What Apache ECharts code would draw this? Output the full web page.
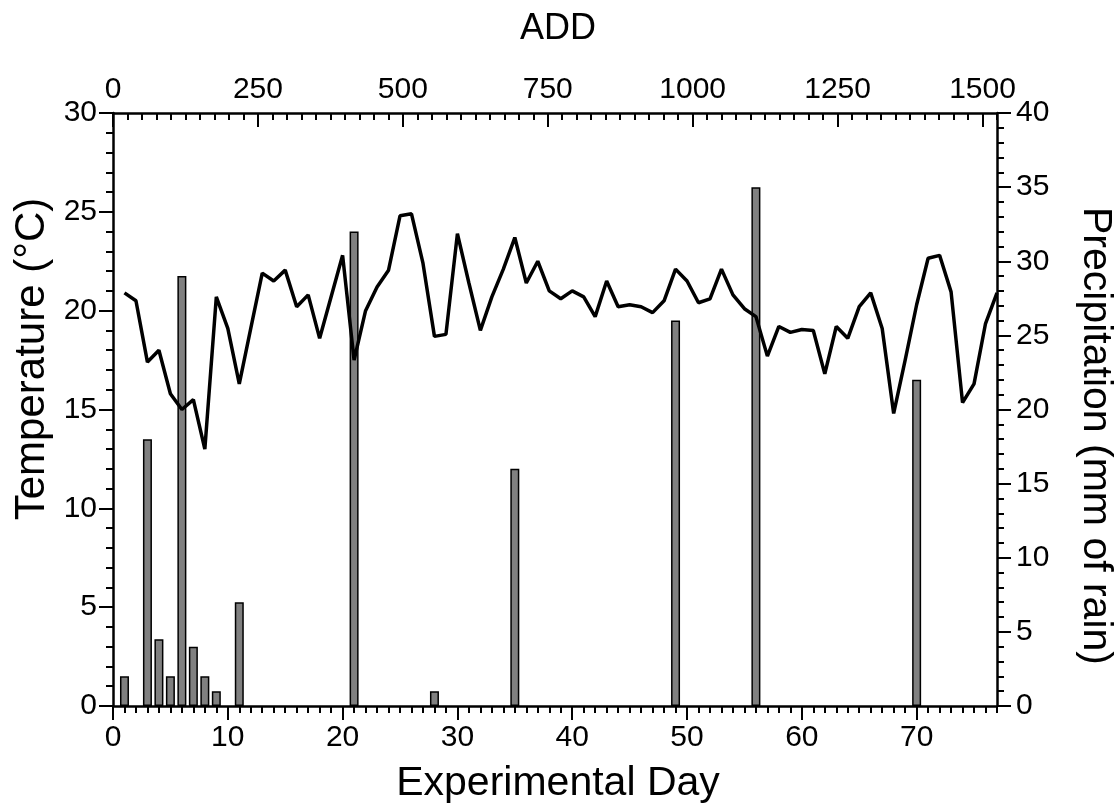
<!DOCTYPE html>
<html><head><meta charset="utf-8">
<script src="https://cdn.jsdelivr.net/npm/echarts@6/dist/echarts.min.js"></script>
<style>html,body{margin:0;padding:0;background:#fff}#c{width:1120px;height:804px}</style>
</head><body><div id="c"></div>
<script>
const days = [1,2,3,4,5,6,7,8,9,10,11,12,13,14,15,16,17,18,19,20,21,22,23,24,25,26,27,28,29,30,31,32,33,34,35,36,37,38,39,40,41,42,43,44,45,46,47,48,49,50,51,52,53,54,55,56,57,58,59,60,61,62,63,64,65,66,67,68,69,70,71,72,73,74,75,76,77];
const temperature = [20.9,20.5,17.4,18.0,15.8,15.0,15.5,13.0,20.7,19.1,16.3,19.1,21.9,21.5,22.05,20.2,20.8,18.6,20.7,22.8,17.5,20.0,21.2,22.05,24.8,24.9,22.4,18.7,18.8,23.9,21.4,19.0,20.7,22.1,23.7,21.4,22.5,21.0,20.6,21.0,20.7,19.7,21.5,20.2,20.3,20.2,19.9,20.5,22.1,21.5,20.4,20.6,22.1,20.8,20.1,19.7,17.7,19.2,18.9,19.05,19.0,16.8,19.2,18.6,20.2,20.9,19.1,14.8,17.5,20.3,22.65,22.8,20.95,15.35,16.3,19.35,20.9];
const rainDays = [1,3,4,5,6,7,8,9,11,21,28,35,49,56,70];
const rainMm = [2,18,4.5,2,29,4,2,1,7,32,1,16,26,35,22];
const dayTicks = [0,10,20,30,40,50,60,70];
const addTicks = [0,250,500,750,1000,1250,1500];
const tempTicks = [0,5,10,15,20,25,30];
const rainTicks = [0,5,10,15,20,25,30,35,40];

const FONT = 'Liberation Sans, Arial, sans-serif';
const labelStyle = {color:'#000', fontFamily:FONT, fontSize:30};
const axLine = {show:true, onZero:false, lineStyle:{color:'#000', width:2.5}};
const noLine = {show:false, onZero:false};
const tickLine = {color:'#000', width:2};
const MINOR = 7, MAJOR = 14;
const chart = echarts.init(document.getElementById('c'));
chart.setOption({
  backgroundColor:'#fff',
  animation:false,
  grid:{left:113, right:123, top:113, bottom:98, containLabel:false, outerBoundsMode:'none'},
  xAxis:[
    {type:'value', position:'bottom', min:0, max:77, interval:1,
     axisLine:axLine, splitLine:{show:false},
     axisTick:{show:true, inside:false, length:MINOR, lineStyle:tickLine},
     axisLabel:Object.assign({margin:17, customValues:dayTicks,
       formatter:v=>dayTicks.indexOf(v)>=0?String(v):''}, labelStyle)},
    {type:'value', position:'bottom', min:0, max:77,
     axisLine:noLine, splitLine:{show:false},
     axisTick:{show:true, inside:false, length:MAJOR, customValues:dayTicks, lineStyle:tickLine},
     axisLabel:{show:false}},
    {type:'value', position:'top', min:0, max:1525, interval:25,
     axisLine:axLine, splitLine:{show:false},
     axisTick:{show:true, inside:true, length:MINOR, lineStyle:tickLine},
     axisLabel:Object.assign({margin:8, customValues:addTicks,
       formatter:v=>addTicks.indexOf(v)>=0?String(v):''}, labelStyle)},
    {type:'value', position:'top', min:0, max:1525,
     axisLine:noLine, splitLine:{show:false},
     axisTick:{show:true, inside:true, length:MAJOR, customValues:addTicks, lineStyle:tickLine},
     axisLabel:{show:false}}
  ],
  yAxis:[
    {type:'value', position:'left', min:0, max:30, interval:5,
     axisLine:axLine, splitLine:{show:false},
     axisTick:{show:true, inside:false, length:MAJOR, lineStyle:tickLine},
     axisLabel:Object.assign({margin:16, customValues:tempTicks}, labelStyle)},
    {type:'value', position:'right', min:0, max:40, interval:5,
     axisLine:axLine, splitLine:{show:false},
     axisTick:{show:true, inside:false, length:MAJOR, lineStyle:tickLine},
     axisLabel:Object.assign({margin:19, customValues:rainTicks}, labelStyle)},
    {type:'value', position:'left', min:0, max:30, interval:1,
     axisLine:noLine, splitLine:{show:false},
     axisTick:{show:true, inside:false, length:MINOR, lineStyle:tickLine},
     axisLabel:{show:false}},
    {type:'value', position:'right', min:0, max:40, interval:1,
     axisLine:noLine, splitLine:{show:false},
     axisTick:{show:true, inside:false, length:MINOR, lineStyle:tickLine},
     axisLabel:{show:false}}
  ],
  graphic:[
    {type:'text', x:558, y:29,
     style:{text:'ADD', fill:'#000', font:'36px '+FONT, textAlign:'center', textVerticalAlign:'middle'}},
    {type:'text', x:558, y:784,
     style:{text:'Experimental Day', fill:'#000', font:'41px '+FONT, textAlign:'center', textVerticalAlign:'middle'}},
    {type:'text', x:32, y:359, rotation:Math.PI/2,
     style:{text:'Temperature (°C)', fill:'#000', font:'42px '+FONT, textAlign:'center', textVerticalAlign:'middle'}},
    {type:'text', x:1095, y:436, rotation:-Math.PI/2,
     style:{text:'Precipitation (mm of rain)', fill:'#000', font:'41px '+FONT, textAlign:'center', textVerticalAlign:'middle'}}
  ],
  series:[
    {type:'bar', xAxisIndex:0, yAxisIndex:1, barWidth:9, z:2,
     itemStyle:{color:'#808080', borderColor:'#000', borderWidth:1.5},
     data:rainDays.map((d,i)=>[d, rainMm[i]])},
    {type:'line', xAxisIndex:0, yAxisIndex:0, z:3, symbol:'none',
     lineStyle:{color:'#000', width:3.5},
     data:days.map((d,i)=>[d, temperature[i]])}
  ]
});
</script></body></html>
